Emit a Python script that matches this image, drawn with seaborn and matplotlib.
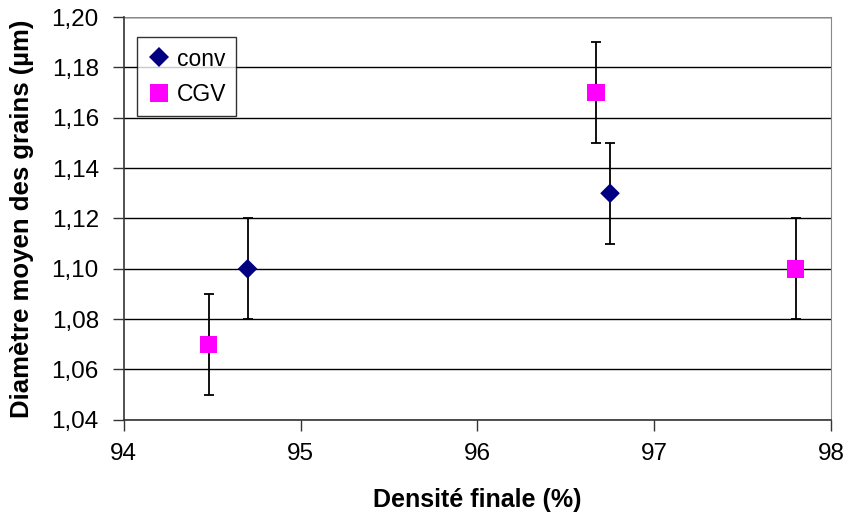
import matplotlib
matplotlib.use("Agg")
import matplotlib.pyplot as plt
import pandas as pd
import seaborn as sns
from matplotlib.ticker import FuncFormatter, MultipleLocator

# values
conv_density = [94.70, 96.75]
conv_diameter = [1.10, 1.13]
conv_error = [0.02, 0.02]

cgv_density = [94.48, 96.67, 97.80]
cgv_diameter = [1.07, 1.17, 1.10]
cgv_error = [0.02, 0.02, 0.02]

df = pd.concat(
    [
        pd.DataFrame({"density": conv_density, "diameter": conv_diameter, "err": conv_error, "series": "conv"}),
        pd.DataFrame({"density": cgv_density, "diameter": cgv_diameter, "err": cgv_error, "series": "CGV"}),
    ],
    ignore_index=True,
)

sns.set_style("white")
plt.rcParams["font.family"] = ["Liberation Sans", "DejaVu Sans"]
plt.rcParams["text.color"] = "black"
plt.rcParams["axes.labelcolor"] = "black"

fig = plt.figure(figsize=(8.48, 5.17), dpi=100)
ax = fig.add_axes([0.146, 0.188, 0.834, 0.779])

ax.errorbar(df["density"], df["diameter"], yerr=df["err"], fmt="none",
            ecolor="black", elinewidth=1.3, capsize=3.6, capthick=1.3, zorder=2)

sns.scatterplot(
    data=df, x="density", y="diameter", hue="series", style="series", size="series",
    palette={"conv": "#000080", "CGV": "#FF00FF"},
    markers={"conv": "D", "CGV": "s"},
    sizes={"conv": 100, "CGV": 160},
    edgecolor="none", linewidth=0, ax=ax, zorder=3,
)

ax.set_xlim(94, 98)
ax.set_ylim(1.04, 1.20)
ax.xaxis.set_major_locator(MultipleLocator(1))
ax.yaxis.set_major_locator(MultipleLocator(0.02))
ax.yaxis.set_major_formatter(FuncFormatter(lambda v, p: f"{v:.2f}".replace(".", ",")))
ax.xaxis.set_major_formatter(FuncFormatter(lambda v, p: f"{v:.0f}"))

ax.grid(axis="y", color="black", linewidth=1.0)
ax.grid(axis="x", visible=False)
ax.set_axisbelow(True)

for side in ["left", "bottom"]:
    ax.spines[side].set_color("#333333")
    ax.spines[side].set_linewidth(1.2)
ax.spines["right"].set_color("#888888")
ax.spines["top"].set_visible(False)
ax.axhline(1.20, color="#888888", linewidth=1.0)

ax.tick_params(axis="both", which="major", direction="out", length=8, width=1.0,
               color="#333333", labelcolor="black", labelsize=17.5, left=True, bottom=True)
ax.tick_params(axis="y", pad=10)
ax.tick_params(axis="x", pad=9)

ax.set_xlabel("Densité finale (%)", fontsize=18, fontweight="bold")
ax.set_ylabel("Diamètre moyen des grains (µm)", fontsize=18.5, fontweight="bold")
ax.xaxis.set_label_coords(0.5, -0.199)
ax.xaxis.label.set_va("center")
ax.yaxis.set_label_coords(-0.144, 0.5)
ax.yaxis.label.set_va("center")

leg = ax.legend(loc="upper left", bbox_to_anchor=(0.018, 0.95), fontsize=16.5, frameon=True,
                fancybox=False, edgecolor="black", handletextpad=0.2, borderpad=0.45,
                labelspacing=0.55, handlelength=1.1, borderaxespad=0)
leg.get_frame().set_linewidth(1.0)

fig.savefig("out.png", dpi=100)
